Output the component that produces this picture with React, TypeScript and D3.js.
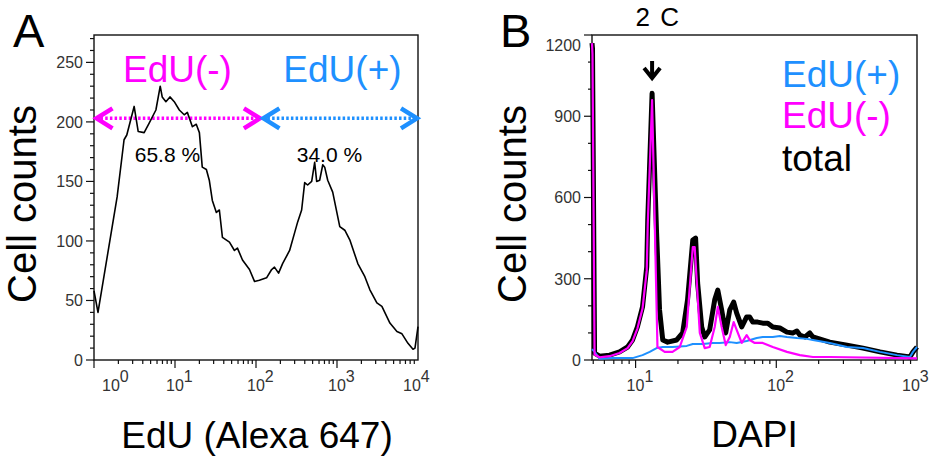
import React, { useEffect, useRef } from 'react';
import * as d3 from 'd3';

const W = 937;
const H = 459;
const FONT = '"Liberation Sans", Arial, Helvetica, sans-serif';
const MAGENTA = '#ff00ff';
const BLUE = '#1e90ff';
const TICK_COLOR = '#333';

// ---- panel A: EdU histogram ----
const eduX = [1.0, 1.12, 1.93, 2.35, 2.54, 3.13, 3.51, 4.16, 4.8, 5.81, 6.57, 6.95, 7.72, 8.66, 9.79,
  11.3, 13.0, 14.2, 16.4, 18.3, 20.0, 21.7, 24.4, 26.5, 28.9, 32.4, 35.3, 38.5, 47.0, 54.2,
  59.0, 68.1, 83.1, 95.8, 110, 135, 156, 169, 190, 213, 260, 300, 327, 366, 399,
  434, 487, 530, 561, 611, 667, 705, 768, 885, 1082, 1248, 1438, 1807, 2207, 2547,
  3107, 3583, 4500, 5495, 6339, 7520, 8675, 9180, 10000];
const eduCounts = [58, 40, 137, 185, 189, 213, 192, 191, 199, 210, 230, 221, 217, 221, 217,
  210, 206, 208, 196, 198, 191, 162, 160, 151, 134, 124, 126, 103, 99, 92,
  94, 84, 76, 66, 67, 69, 76, 78, 73, 81, 92, 107, 116, 126, 149,
  147, 150, 166, 150, 151, 164, 162, 151, 141, 112, 109, 101, 81, 70, 59,
  48, 45, 31, 24, 22, 14, 9, 10, 28];
const eduYTicks = [0, 50, 100, 150, 200, 250];
const eduXTicks = [1, 10, 100, 1000, 10000];
const eduXExp = ['0', '1', '2', '3', '4'];
const gateNames = ['EdU(-)', 'EdU(+)'];
const gatePercents = ['65.8 %', '34.0 %'];
const gateBounds = [[1, 115], [115, 10000]];
const gateLevel = 203;

// ---- panel B: DAPI histograms ----
const totalX = [4.9, 4.94, 5.11, 5.54, 6.53, 7.69, 8.77, 9.52, 10.3, 11.2, 12.0, 12.2, 13.1, 14.1, 14.8,
  15.6, 16.9, 19.6, 21.6, 23.4, 25.5, 26.7, 27.6, 29.5, 31.0, 33.6, 36.5, 38.4, 40.9, 43.7,
  46.7, 49.8, 52.3, 56.8, 61.6, 64.7, 68.0, 73.8, 80.1, 87.0, 94.4, 106, 119, 131, 140,
  147, 160, 173, 182, 240, 318, 413, 546, 721, 891, 937, 1000];
const totalCounts = [1170, 1150, 25, 14, 18, 30, 48, 74, 122, 196, 343, 517, 985, 469, 185,
  74, 66, 74, 100, 222, 443, 450, 284, 122, 85, 111, 222, 258, 185, 100,
  185, 214, 173, 122, 159, 159, 140, 140, 136, 136, 122, 118, 103, 100, 107,
  92, 85, 100, 85, 66, 55, 44, 30, 18, 11, 30, 48];
const negX = [4.9, 4.94, 5.11, 5.54, 6.53, 7.69, 8.77, 9.52, 10.3, 11.2, 12.0, 12.2, 13.1, 14.3, 16.1,
  18.3, 20.6, 23.1, 25.5, 26.3, 28.6, 31.0, 33.6, 36.5, 38.4, 40.9, 43.7, 46.7, 49.8, 52.3,
  56.8, 61.6, 64.7, 70.3, 80.1, 94.4, 119, 147, 182, 240, 1000];
const negCounts = [1170, 1130, 20, 10, 14, 26, 44, 70, 116, 190, 330, 500, 960, 48, 30,
  30, 48, 122, 417, 417, 100, 44, 48, 122, 196, 122, 55, 85, 140, 111,
  63, 92, 74, 63, 63, 48, 30, 18, 11, 11, 6];
const posX = [4.9, 5.11, 5.54, 6.86, 9.52, 11.2, 12.6, 14.1, 15.6, 18.3, 23.1, 25.5, 30.0, 35.3, 39.6,
  46.7, 52.3, 61.6, 72.6, 80.1, 94.4, 106, 119, 140, 165, 182, 240, 318, 413, 546,
  721, 891, 937, 1000];
const posCounts = [40, 30, 5, 7, 7, 18, 30, 44, 48, 48, 52, 59, 59, 63, 63,
  66, 63, 70, 81, 85, 85, 89, 85, 81, 78, 74, 63, 48, 44, 30,
  18, 11, 30, 48];
const dapiYTicks = [0, 300, 600, 900, 1200];
const dapiXTicks = [10, 100, 1000];
const dapiXExp = ['1', '2', '3'];
const legendNames = ['EdU(+)', 'EdU(-)', 'total'];
const legendColors = [BLUE, MAGENTA, '#000'];
const peakLabel = '2 C';
const peakDapi = 13.1;

const minorLogTicks = (lo, hi) => {
  const out = [];
  for (let d = Math.pow(10, Math.floor(Math.log10(lo))); d < hi; d *= 10) {
    for (let k = 1; k < 10; k++) {
      const v = d * k;
      if (v >= lo && v <= hi) out.push(v);
    }
  }
  return out;
};

const drawAxes = (g, x, y, opts) => {
  const [x0, x1] = x.range();
  const [y0, y1] = y.range();

  // y ticks
  d3.range(0, opts.yMax + 1, opts.yMinor).forEach(v => {
    const major = opts.yTicks.includes(v);
    g.append('line')
      .attr('x1', x0 - (major ? 8 : 4)).attr('x2', x0)
      .attr('y1', y(v)).attr('y2', y(v))
      .attr('stroke', '#111').attr('stroke-width', 1.2);
  });
  opts.yTicks.forEach(v => {
    g.append('text')
      .attr('x', x0 - 11)
      .attr('y', Math.max(y(v), y1 + 10))
      .attr('dy', '0.36em')
      .attr('text-anchor', 'end')
      .attr('font-size', 16)
      .attr('fill', TICK_COLOR)
      .text(v);
  });

  // x ticks (log)
  minorLogTicks(x.domain()[0], x.domain()[1]).forEach(v => {
    const major = opts.xTicks.includes(v);
    g.append('line')
      .attr('x1', x(v)).attr('x2', x(v))
      .attr('y1', y0).attr('y2', y0 + (major ? 8 : 4))
      .attr('stroke', '#111').attr('stroke-width', 1.2);
  });
  opts.xTicks.forEach((v, i) => {
    let sx = x(v) - 9;
    if (sx < x0 + 6) sx = x0 + 8;          // first label pushed inside
    if (i === opts.xTicks.length - 1) sx -= 6; // last label pulled in
    const t = g.append('text')
      .attr('x', sx)
      .attr('y', y0 + 31)
      .attr('font-size', 16)
      .attr('fill', TICK_COLOR);
    t.append('tspan').text('10');
    t.append('tspan').attr('dy', -9).text(opts.xExp[i]);
  });

  // frame
  g.append('rect')
    .attr('x', x0).attr('y', y1)
    .attr('width', x1 - x0).attr('height', y0 - y1)
    .attr('fill', 'none')
    .attr('stroke', '#111')
    .attr('stroke-width', 1.4);
};

const chevron = (g, tx, ty, dir, color) => {
  g.append('path')
    .attr('d', `M${tx - dir * 16},${ty - 10}L${tx},${ty}L${tx - dir * 16},${ty + 10}`)
    .attr('fill', 'none')
    .attr('stroke', color)
    .attr('stroke-width', 4.5);
};

const App = () => {
  const svgRef = useRef(null);

  useEffect(() => {
    const svg = d3.select(svgRef.current);
    svg.selectAll('*').remove();
    svg.attr('font-family', FONT);

    // ===== Panel A =====
    const xA = d3.scaleLog().domain([1, 10000]).range([94, 418]);
    const yA = d3.scaleLinear().domain([0, 273]).range([360, 35]);
    const gA = svg.append('g');

    drawAxes(gA, xA, yA, {
      yTicks: eduYTicks, yMinor: 10, yMax: 270,
      xTicks: eduXTicks, xExp: eduXExp
    });

    // gates: dotted double arrows
    const gy = yA(gateLevel);
    gateBounds.forEach(([lo, hi], i) => {
      const color = i === 0 ? MAGENTA : BLUE;
      const a = xA(lo) + 2.5;
      const b = xA(hi) - 1;
      gA.append('line')
        .attr('x1', a + 4).attr('x2', b - 4)
        .attr('y1', gy).attr('y2', gy)
        .attr('stroke', color)
        .attr('stroke-width', 3.5)
        .attr('stroke-dasharray', '2.5,2.2');
      chevron(gA, a, gy, -1, color);
      chevron(gA, b, gy, 1, color);

      const cx = Math.sqrt(lo * hi);
      gA.append('text')
        .attr('x', xA(cx) + (i === 0 ? 0 : 3))
        .attr('y', gy - 36)
        .attr('text-anchor', 'middle')
        .attr('font-size', 37)
        .attr('fill', color)
        .text(gateNames[i]);
      gA.append('text')
        .attr('x', xA(cx) - 10)
        .attr('y', gy + 44)
        .attr('text-anchor', 'middle')
        .attr('font-size', 21)
        .attr('fill', '#000')
        .text(gatePercents[i]);
    });

    const lineA = d3.line()
      .x(d => xA(d[0]))
      .y(d => yA(d[1]));
    gA.append('path')
      .datum(eduX.map((v, i) => [v, eduCounts[i]]))
      .attr('d', lineA)
      .attr('fill', 'none')
      .attr('stroke', '#000')
      .attr('stroke-width', 1.6)
      .attr('stroke-linejoin', 'round');

    gA.append('text')
      .attr('x', 13).attr('y', 47)
      .attr('font-size', 47)
      .text('A');
    gA.append('text')
      .attr('transform', 'translate(36,204) rotate(-90)')
      .attr('text-anchor', 'middle')
      .attr('font-size', 40)
      .text('Cell counts');
    gA.append('text')
      .attr('x', (xA.range()[0] + xA.range()[1]) / 2 + 1)
      .attr('y', 448)
      .attr('text-anchor', 'middle')
      .attr('font-size', 37)
      .text('EdU (Alexa 647)');

    // ===== Panel B =====
    const xB = d3.scaleLog().domain([4.9, 1000]).range([592, 917]);
    const yB = d3.scaleLinear().domain([0, 1200]).range([360, 35]);
    const gB = svg.append('g');

    drawAxes(gB, xB, yB, {
      yTicks: dapiYTicks, yMinor: 100, yMax: 1200,
      xTicks: dapiXTicks, xExp: dapiXExp
    });

    const lineB = d3.line()
      .x(d => xB(d[0]))
      .y(d => yB(d[1]));
    const series = [
      { xs: totalX, ys: totalCounts, color: '#000', w: 5 },
      { xs: posX, ys: posCounts, color: BLUE, w: 2 },
      { xs: negX, ys: negCounts, color: MAGENTA, w: 2.2 }
    ];
    series.forEach(s => {
      gB.append('path')
        .datum(s.xs.map((v, i) => [v, s.ys[i]]))
        .attr('d', lineB)
        .attr('fill', 'none')
        .attr('stroke', s.color)
        .attr('stroke-width', s.w)
        .attr('stroke-linejoin', 'round');
    });

    // 2C arrow
    const px = xB(peakDapi);
    gB.append('line')
      .attr('x1', px).attr('x2', px)
      .attr('y1', 61).attr('y2', 77)
      .attr('stroke', '#000').attr('stroke-width', 4);
    gB.append('path')
      .attr('d', `M${px - 8},${68}L${px},${78}L${px + 8},${68}`)
      .attr('fill', 'none')
      .attr('stroke', '#000')
      .attr('stroke-width', 4);
    gB.append('text')
      .attr('x', px + 6).attr('y', 26)
      .attr('text-anchor', 'middle')
      .attr('font-size', 26)
      .attr('letter-spacing', 1.5)
      .text(peakLabel);

    legendNames.forEach((n, i) => {
      gB.append('text')
        .attr('x', 782)
        .attr('y', [87, 128, 171][i])
        .attr('font-size', 37)
        .attr('fill', legendColors[i])
        .text(n);
    });

    gB.append('text')
      .attr('x', 500).attr('y', 47)
      .attr('font-size', 47)
      .text('B');
    gB.append('text')
      .attr('transform', 'translate(526,204) rotate(-90)')
      .attr('text-anchor', 'middle')
      .attr('font-size', 40)
      .text('Cell counts');
    gB.append('text')
      .attr('x', (xB.range()[0] + xB.range()[1]) / 2)
      .attr('y', 447)
      .attr('text-anchor', 'middle')
      .attr('font-size', 37)
      .text('DAPI');
  }, []);

  return (
    <div style={{ position: 'absolute', left: 0, top: 0, width: W, height: H, background: '#fff' }}>
      <svg ref={svgRef} width={W} height={H}></svg>
    </div>
  );
};

export default App;
